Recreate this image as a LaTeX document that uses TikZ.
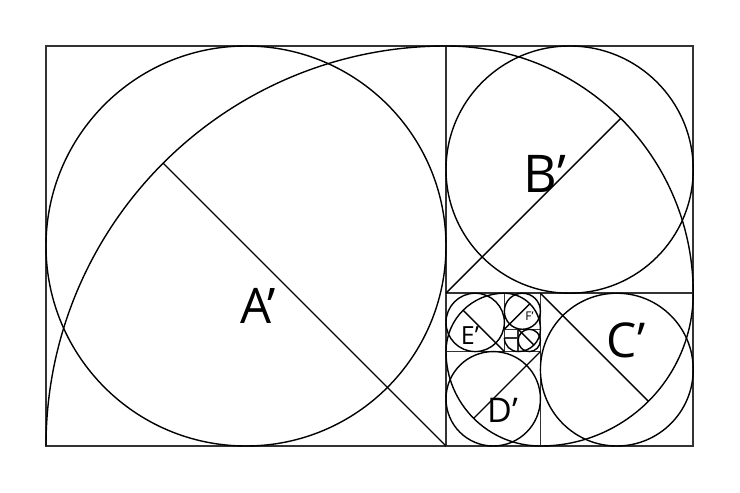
\documentclass[tikz,border=0pt]{standalone}
\usepackage{fontspec}
\setmainfont{Open Sans}

\begin{document}
\begin{tikzpicture}
[
x=1pt, y=1pt,
frame/.style  ={draw, line width=1.5pt, black!80},
ring/.style   ={draw, line width=1.4pt},
spiral/.style ={draw, line width=1.4pt},
line/.style   ={draw, line width=1.4pt},
tag/.style    ={inner sep=0pt, font=\fontsize{#1}{#1}\selectfont}
]

\useasboundingbox (-46,-47) rectangle (694,446);

\draw[frame] (0,0) rectangle (647.214,400);
\draw[frame] (400,0) -- (400,400);
\draw[frame] (400,152.786) -- (647.214,152.786);
\draw[frame] (494.427,0) -- (494.427,152.786);
\draw[frame] (400,94.427) -- (494.427,94.427);
\draw[frame] (458.359,94.427) -- (458.359,152.786);
\draw[frame] (458.359,116.718) -- (494.427,116.718);
\draw[frame] (472.136,94.427) -- (472.136,116.718);
\draw[frame] (458.359,108.204) -- (472.136,108.204);

\draw[ring] (200,200) circle (200);
\draw[ring] (523.607,276.393) circle (123.607);
\draw[ring] (570.820,76.393) circle (76.393);
\draw[ring] (447.214,47.214) circle (47.214);
\draw[ring] (429.180,123.607) circle (29.180);
\draw[ring] (476.393,134.752) circle (18.034);
\draw[ring] (483.282,105.573) circle (11.146);

\draw[spiral] (0,0) arc (180:90:400) arc (90:0:247.214) arc (0:-90:152.786)
  arc (-90:-180:94.427) arc (180:90:58.359) arc (90:0:36.068)
  arc (0:-90:22.291) arc (-90:-180:13.777);

\draw[line] (400,0) -- +(135:400);
\draw[line] (400,152.786) -- +(45:247.214);
\draw[line] (494.427,152.786) -- +(-45:152.786);
\draw[line] (494.427,94.427) -- +(-135:94.427);
\draw[line] (458.359,94.427) -- +(135:58.359);
\draw[line] (458.359,116.718) -- +(45:36.068);
\draw[line] (472.136,116.718) -- +(-45:22.291);

\node[tag=49] (labelA) at (212,140.5) {A’};
\node[tag=52] (labelB) at (499,272.5) {B’};
\node[tag=48] (labelC) at (580,105.5) {C’};
\node[tag=34] (labelD) at (456.5,36) {D’};
\node[tag=25] (labelE) at (424,110) {E’};
\node[tag=12] (labelF) at (483.5,129.5) {F’};
\end{tikzpicture}
\end{document}
